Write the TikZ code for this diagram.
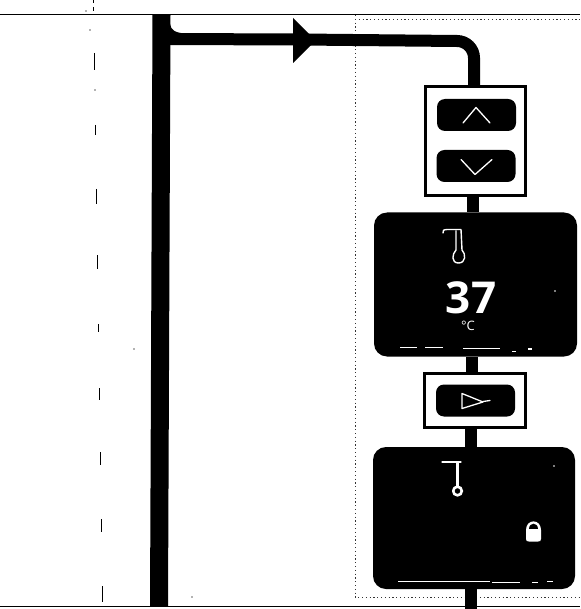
\documentclass[tikz,border=0pt]{standalone}
\usepackage{fontspec}
\setmainfont{Open Sans}
\tikzset{
  panel/.style={draw=none,fill=black,rounded corners=13pt,minimum width=203pt,minimum height=144pt,inner sep=0pt},
  frame/.style={draw=black,line width=3.2pt,fill=white,inner sep=0pt},
  btn/.style={draw=none,fill=black,rounded corners=8pt,minimum width=79pt,minimum height=32pt,inner sep=0pt},
  wire/.style={draw=black,line width=12pt},
  glyph/.style={draw=white,line width=1.3pt,line cap=round,line join=round},
  rule/.style={draw=black,line width=1.5pt},
  dots/.style={draw=black!80,line width=.9pt,dash pattern=on 1.2pt off 2.6pt},
  scrap/.style={draw=black,line width=.7pt},
}
\begin{document}
\begin{tikzpicture}[x=1pt,y=-1pt]
\useasboundingbox (0,0) rectangle (580,609);
\fill[white] (0,0) rectangle (580,609);
% page rules
\coordinate (tl) at (0,14.5); \coordinate (tr) at (580,14.5);
\coordinate (bl) at (0,606.7); \coordinate (br) at (580,606.7);
\draw[rule] (tl) -- (tr);
\draw[rule] (bl) -- (br);
% dotted outline
\coordinate (d1) at (355,15); \coordinate (d2) at (355,597); \coordinate (d3) at (580,597); \coordinate (d4) at (580,19.5); \coordinate (d5) at (355,19.5);
\draw[dots] (d5) -- (d4);
\draw[dots] (d1) -- (d2) -- (d3);
% left broken line
\foreach \xa/\ya/\yb in {93.5/0/3,93.5/7/11,94.5/53/70,95.7/125/135,96.5/189/204,97.5/255/269,98.5/324/332,99.5/388/400,100.5/452/465,101/519/532,102/586/602}
  \draw[scrap] (\xa,\ya) -- (\xa,\yb);
\fill[black!60] (90,30) circle (.8) (95,90) circle (.8) (134,349) circle (.8) (192,597) circle (.8) (86,11) circle (.8);
% main bus
\coordinate (busT) at (161.5,14.5); \coordinate (busB) at (159,606);
\draw[line width=18pt] (busT) -- (busB);
\coordinate (tap) at (165,39);
% nodes
\node[frame,minimum width=100pt,minimum height=109pt] (upd) at (475.5,141) {};
\node[btn] (up) at (476.5,115) {};
\node[btn] (down) at (476,166) {};
\node[panel] (p1) at (475.5,284.5) {};
\node[frame,minimum width=101pt,minimum height=54pt] (go) at (475,400.5) {};
\node[btn] (play) at (475.5,400.5) {};
\node[panel,minimum height=142pt,minimum width=202pt] (p2) at (474,518) {};
\coordinate (endB) at (471,609);
% connectors
\draw[wire] (tap) -- (300,39.5) -- (457,41) arc[start angle=-90,end angle=0,radius=17] -- (upd.north -| 474,0);
\fill (170,24) .. controls (171,30) and (175,33) .. (186,33.5) -- (170,40) -- cycle;
\draw[wire] (upd.south -| 473,0) -- (p1.north -| 473,0);
\draw[wire] (p1.south -| 472,0) -- (go.north -| 472,0);
\draw[wire] (go.south -| 471,0) -- (p2.north -| 471,0);
\draw[wire] (p2.south -| 471,0) -- (endB);
% arrow head
\fill (293,18) -- (308,33) -- (318,40) -- (310,46) -- (293,63) -- cycle;
% chevrons
\draw[glyph] (463,123) -- (476,107.5) -- (490,123);
\draw[glyph] (461,159.5) -- (475,174.5) -- (492,159.5);
% play glyph
\draw[glyph] (462,393.5) -- (462,408.5) -- (483,402) -- cycle;
\draw[glyph] (483,401.5) -- (490,400.5);
% thermometer 1
\draw[glyph,line width=1.4pt] (443,233) .. controls (443,230) .. (447,229.5) -- (461,229.5) -- (462,250) .. controls (466,254) and (466,263) .. (458.5,263) .. controls (451,263) and (452,254) .. (456,250) -- (456,231);
% 37
\node[font=\fontsize{44}{44}\selectfont\bfseries,text=white,inner sep=0pt,text height=32pt,text depth=0pt,anchor=base] (t37) at (471,313) {37};
\node[font=\fontsize{13}{13}\selectfont,text=white,inner sep=0pt,text height=9pt,text depth=0pt,anchor=base] (tc) at (468,330) {°C};
\draw[draw=white,line width=.9pt] (400,347.7) -- (417,347.7) (425,347.7) -- (443,347.7) (463,348) -- (500,348);
\fill[white] (528,348) rectangle +(4,1.5);
\fill[white] (512,350.5) rectangle +(4,.8);
\fill[white] (555,291) circle (.9);
% thermometer 2
\draw[glyph,line width=1.1pt] (442,462) -- (461,462);
\draw[glyph,line width=3.4pt,line cap=butt] (457.7,462) -- (457.7,486);
\draw[glyph,line width=2.6pt] (457.5,491) circle (4.3);
\fill[white] (554,466) circle (.9);
% lock
\fill[white] (526,539) .. controls (526,541) and (527,541.5) .. (529,541.5) -- (538,541.5) .. controls (540,541.5) and (541,541) .. (541,539) -- (541,530) .. controls (541,518.5) and (526,518.5) .. (526,530) -- cycle;
\fill[black] (529,528.5) .. controls (529,521.5) and (538,521.5) .. (538,528.5) -- cycle;
\draw[draw=white,line width=.9pt] (398,581.7) -- (490,581.7) (492,582) -- (520,582) (532,582) -- (538,582) (547,581.5) -- (553,581.5);
\end{tikzpicture}
\end{document}
